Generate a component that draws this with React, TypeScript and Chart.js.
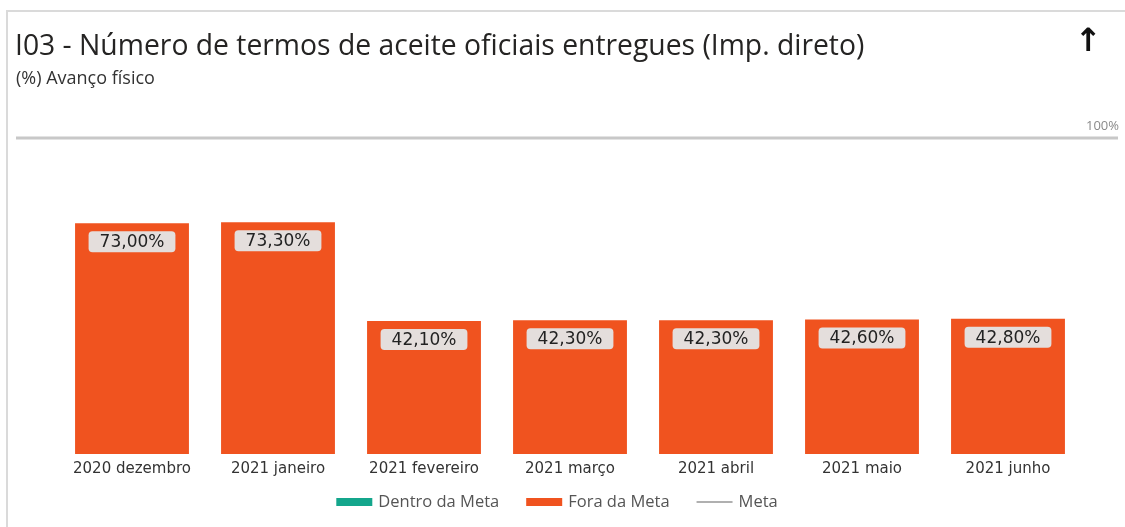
import React, { useEffect, useRef } from "react";
import { Chart, registerables } from "chart.js";

Chart.register(...registerables);

const TITLE = "I03 - Número de termos de aceite oficiais entregues (Imp. direto)";
const SUBTITLE = "(%) Avanço físico";
const CATEGORIES = [
  "2020 dezembro",
  "2021 janeiro",
  "2021 fevereiro",
  "2021 março",
  "2021 abril",
  "2021 maio",
  "2021 junho",
];
const DENTRO_DA_META: (number | null)[] = [null, null, null, null, null, null, null];
const FORA_DA_META: number[] = [73.0, 73.3, 42.1, 42.3, 42.3, 42.6, 42.8];
const META: number[] = [100, 100, 100, 100, 100, 100, 100];
const META_LABEL = "100%";
const Y_MIN = 0;
const Y_MAX = 100;

const ORANGE = "#F0531F";
const TEAL = "#14A68C";
const GRAY_LINE = "#C8C8C8";

const fmt = (v: number) => v.toFixed(2).replace(".", ",") + "%";

const metaLinePlugin = {
  id: "metaLine",
  afterDatasetsDraw(chart: any) {
    const { ctx } = chart;
    const y = chart.scales.y.getPixelForValue(META[0]);
    ctx.save();
    ctx.strokeStyle = GRAY_LINE;
    ctx.lineWidth = 3;
    ctx.beginPath();
    ctx.moveTo(16, y);
    ctx.lineTo(1118, y);
    ctx.stroke();
    ctx.fillStyle = "#8a8a8a";
    ctx.font = "13px 'Open Sans'";
    ctx.textAlign = "right";
    ctx.textBaseline = "middle";
    ctx.fillText(META_LABEL, 1119, y - 12);
    ctx.restore();
  },
};

const dataLabelPlugin = {
  id: "dataLabels",
  afterDatasetsDraw(chart: any) {
    const { ctx } = chart;
    const meta = chart.getDatasetMeta(1);
    ctx.save();
    ctx.font = "17px 'DejaVu Sans'";
    ctx.textAlign = "center";
    ctx.textBaseline = "middle";
    meta.data.forEach((bar: any, i: number) => {
      const v = FORA_DA_META[i];
      if (v == null) return;
      const text = fmt(v);
      const w = ctx.measureText(text).width + 22;
      const h = 21;
      const x = bar.x - w / 2;
      const top = bar.y + 8;
      ctx.fillStyle = "#E4DEDC";
      ctx.beginPath();
      (ctx as any).roundRect(x, top, w, h, 4);
      ctx.fill();
      ctx.fillStyle = "#222222";
      ctx.fillText(text, bar.x, top + h / 2 + 1);
    });
    ctx.restore();
  },
};

const legendPlugin = {
  id: "customLegend",
  afterDraw(chart: any) {
    const { ctx } = chart;
    const items = [
      { label: chart.data.datasets[0].label, color: TEAL, type: "box" },
      { label: chart.data.datasets[1].label, color: ORANGE, type: "box" },
      { label: chart.data.datasets[2].label, color: "#B0B0B0", type: "line" },
    ];
    ctx.save();
    ctx.font = "16.5px 'Open Sans'";
    ctx.textBaseline = "middle";
    ctx.textAlign = "left";
    const boxW = 36;
    const gap = 6;
    const spacing = 27;
    let total = 0;
    items.forEach((it, i) => {
      total += boxW + gap + ctx.measureText(it.label).width + (i < items.length - 1 ? spacing : 0);
    });
    let x = 557 - total / 2;
    const y = 502;
    items.forEach((it) => {
      if (it.type === "box") {
        ctx.fillStyle = it.color;
        ctx.fillRect(x, y - 4, boxW, 8);
      } else {
        ctx.strokeStyle = it.color;
        ctx.lineWidth = 2;
        ctx.beginPath();
        ctx.moveTo(x, y);
        ctx.lineTo(x + boxW, y);
        ctx.stroke();
      }
      x += boxW + gap;
      ctx.fillStyle = "#555555";
      ctx.fillText(it.label, x, y);
      x += ctx.measureText(it.label).width + spacing;
    });
    ctx.restore();
  },
};

export default function App() {
  const ref = useRef<HTMLCanvasElement | null>(null);

  useEffect(() => {
    if (!ref.current) return;
    const chart = new Chart(ref.current, {
      type: "bar",
      data: {
        labels: CATEGORIES,
        datasets: [
          {
            label: "Dentro da Meta",
            data: DENTRO_DA_META,
            backgroundColor: TEAL,
            grouped: false,
            categoryPercentage: 1,
            barPercentage: 0.78,
          } as any,
          {
            label: "Fora da Meta",
            data: FORA_DA_META,
            backgroundColor: ORANGE,
            grouped: false,
            categoryPercentage: 1,
            barPercentage: 0.78,
          } as any,
          {
            type: "line",
            label: "Meta",
            data: META,
            borderColor: GRAY_LINE,
            borderWidth: 3,
            pointRadius: 0,
            showLine: false,
            clip: false,
          } as any,
        ],
      },
      options: {
        animation: false,
        responsive: false,
        maintainAspectRatio: false,
        layout: { padding: { left: 59, right: 44, top: 138, bottom: 43 } },
        plugins: {
          legend: { display: false },
          tooltip: { enabled: false },
          title: { display: false },
        },
        scales: {
          x: {
            grid: { display: false, drawTicks: false },
            border: { display: false },
            ticks: {
              color: "#333333",
              font: { family: "DejaVu Sans", size: 15 },
              padding: 6,
              maxRotation: 0,
              autoSkip: false,
            },
          },
          y: {
            display: false,
            min: Y_MIN,
            max: Y_MAX,
          },
        },
      },
      plugins: [metaLinePlugin, dataLabelPlugin, legendPlugin],
    });
    return () => chart.destroy();
  }, []);

  return (
    <div
      style={{
        position: "fixed",
        left: 0,
        top: 0,
        width: 1125,
        height: 527,
        background: "#fff",
        overflow: "hidden",
      }}
    >
      <div
        style={{
          position: "absolute",
          left: 6,
          top: 10,
          width: 1125,
          height: 527,
          borderLeft: "2px solid #dadada",
          borderTop: "2px solid #dadada",
        }}
      />
      <canvas
        ref={ref}
        width={1125}
        height={527}
        style={{ position: "absolute", left: 0, top: 0, width: 1125, height: 527 }}
      />
      <div
        style={{
          position: "absolute",
          left: 15,
          top: 25,
          fontFamily: "'Open Sans', sans-serif",
          fontSize: 28.3,
          lineHeight: "38px",
          color: "#252423",
          whiteSpace: "nowrap",
        }}
      >
        {TITLE}
      </div>
      <div
        style={{
          position: "absolute",
          left: 16,
          top: 65,
          fontFamily: "'Open Sans', sans-serif",
          fontSize: 18,
          lineHeight: "24px",
          color: "#333",
          whiteSpace: "nowrap",
        }}
      >
        {SUBTITLE}
      </div>
      <div
        style={{
          position: "absolute",
          left: 1075,
          top: 19,
          width: 26,
          textAlign: "center",
          fontFamily: "'DejaVu Sans', sans-serif",
          fontSize: 32,
          fontWeight: "bold",
          lineHeight: "42px",
          color: "#111",
        }}
      >
        ↑
      </div>
    </div>
  );
}
